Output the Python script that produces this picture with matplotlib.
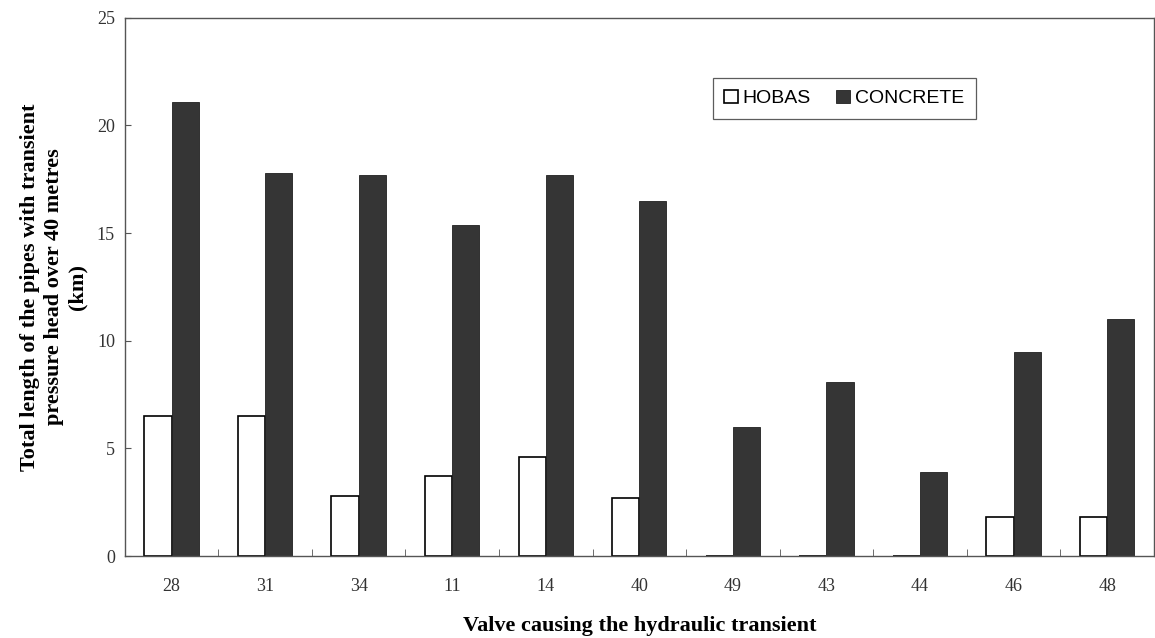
import numpy as np
import matplotlib
matplotlib.use('Agg')
import matplotlib.pyplot as plt

# Data (km)
valves = ['28', '31', '34', '11', '14', '40', '49', '43', '44', '46', '48']
hobas = [6.5, 6.5, 2.8, 3.7, 4.6, 2.7, 0, 0, 0, 1.8, 1.8]
concrete = [21.1, 17.8, 17.7, 15.4, 17.7, 16.5, 6.0, 8.1, 3.9, 9.5, 11.0]

plt.rcParams['font.family'] = ['Liberation Serif', 'DejaVu Serif']

fig = plt.figure(figsize=(11.55, 6.38), dpi=100)
ax = fig.add_axes([0.108, 0.1285, 0.891, 0.8435])

x = np.arange(len(valves))
w = 0.29
ax.bar(x - w / 2, hobas, w, color='white', edgecolor='black', linewidth=1.2, label='HOBAS')
ax.bar(x + w / 2, concrete, w, color='#353535', edgecolor='#202020', linewidth=0.6, label='CONCRETE')

ax.set_xlim(-0.5, len(valves) - 0.5)
ax.set_ylim(0, 25)
ax.set_yticks([0, 5, 10, 15, 20, 25])

# category labels centred, tick marks between categories
ax.set_xticks(x)
ax.set_xticklabels(valves, fontsize=13, color='#333333')
ax.tick_params(axis='x', length=0, pad=16)
ax.set_xticks(np.arange(-0.5, len(valves)), minor=True)
ax.tick_params(axis='x', which='minor', direction='in', length=5, color='#555555')
ax.tick_params(axis='y', direction='in', length=4, pad=7, labelsize=13,
               labelcolor='#333333', color='#555555')

for s in ax.spines.values():
    s.set_color('#555555')
    s.set_linewidth(1.0)

ax.set_xlabel('Valve causing the hydraulic transient', fontsize=16,
              fontweight='bold', labelpad=15)
ax.set_ylabel('Total length of the pipes with transient\npressure head over 40 metres\n(km)',
              fontsize=16, fontweight='bold', linespacing=1.25)
ax.yaxis.set_label_coords(-0.036, 0.5)

leg = ax.legend(loc='center', bbox_to_anchor=(0.699, 0.85), ncol=2, frameon=True,
                fancybox=False, edgecolor='#333333',
                prop={'family': 'Liberation Sans', 'size': 14},
                handlelength=0.7, handleheight=0.7, handletextpad=0.25,
                columnspacing=1.3, borderpad=0.6, borderaxespad=0)
leg.get_frame().set_linewidth(0.9)

fig.savefig('out.png', dpi=100)
